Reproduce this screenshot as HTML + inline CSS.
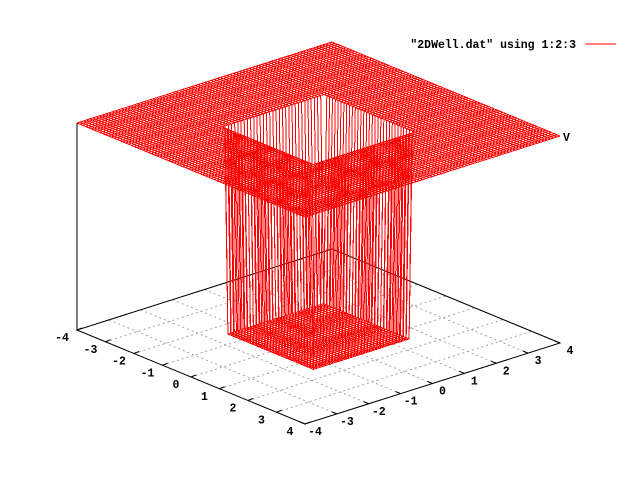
<!DOCTYPE html>
<html><head><meta charset="utf-8"><style>
html,body{margin:0;padding:0;background:#fff}
svg{display:block}
text{font-family:"Liberation Mono",monospace;font-size:11.5px;font-weight:bold;fill:#000}
</style></head><body>
<svg id="chart" width="640" height="480" viewBox="0 0 640 480">
<g id="grid"></g>
<g id="axes"></g>
<g id="mesh" fill="none" stroke="#ff0000" stroke-width="1" shape-rendering="crispEdges"></g>
<g id="labels"></g>
<text x="576" y="48" text-anchor="end">"2DWell.dat" using 1:2:3</text>
<line x1="585" y1="44" x2="616" y2="44" stroke="#ff0000"/>
<text x="563" y="141">V</text>
</svg>
<script>
const xTicks=[-4,-3,-2,-1,0,1,2,3,4];
const yTicks=[-4,-3,-2,-1,0,1,2,3,4];
const axisRange=[-4,4];
const gridStep=[0.1];
const wellBounds=[-1.5,1.5];
const wellValue=[-1];
const outsideValue=[0];
const zRange=[-1,0];

const L=[77,330],B=[305,424],R=[560,343],ZH=207;
const NS="http://www.w3.org/2000/svg";
function P(x,y,z){
  const u=(x-axisRange[0])/(axisRange[1]-axisRange[0]);
  const v=(y-axisRange[0])/(axisRange[1]-axisRange[0]);
  const sx=L[0]+u*(B[0]-L[0])+v*(R[0]-B[0]);
  const sy=L[1]+u*(B[1]-L[1])+v*(R[1]-B[1])-(z-zRange[0])/(zRange[1]-zRange[0])*ZH;
  return [sx,sy];
}
function V(x,y){
  return (x>=wellBounds[0]-1e-9&&x<=wellBounds[1]+1e-9&&y>=wellBounds[0]-1e-9&&y<=wellBounds[1]+1e-9)?wellValue[0]:outsideValue[0];
}
function mk(tag,attrs,parent){const e=document.createElementNS(NS,tag);for(const k in attrs)e.setAttribute(k,attrs[k]);parent.appendChild(e);return e;}
const grid=document.getElementById('grid'),axes=document.getElementById('axes'),mesh=document.getElementById('mesh'),labels=document.getElementById('labels');
const zb=zRange[0];
xTicks.forEach(t=>{const a=P(t,axisRange[0],zb),b=P(t,axisRange[1],zb);
  const e=mk('line',{x1:a[0],y1:a[1],x2:b[0],y2:b[1],stroke:'#a0a0a0','stroke-dasharray':'2,3'},grid);
  
  });
yTicks.forEach(t=>{const a=P(axisRange[0],t,zb),b=P(axisRange[1],t,zb);
  const e=mk('line',{x1:a[0],y1:a[1],x2:b[0],y2:b[1],stroke:'#a0a0a0','stroke-dasharray':'2,3'},grid);
  
  });
const c=[P(axisRange[0],axisRange[0],zb),P(axisRange[1],axisRange[0],zb),P(axisRange[1],axisRange[1],zb),P(axisRange[0],axisRange[1],zb)];
const bd=mk('polygon',{points:c.map(p=>p.join(',')).join(' '),fill:'none',stroke:'#000'},axes);


const zt=P(axisRange[0],axisRange[0],zRange[1]);
const za=mk('line',{x1:c[0][0],y1:c[0][1],x2:zt[0],y2:zt[1],stroke:'#000'},axes);


xTicks.forEach(t=>{const p=P(t,axisRange[0],zb);
  mk('line',{x1:p[0],y1:p[1],x2:p[0]+5,y2:p[1]-2,stroke:'#000'},axes);
  const e=mk('text',{x:p[0]-15,y:p[1]+11,'text-anchor':'middle'},labels);e.textContent=t;
  
  });
yTicks.forEach(t=>{const p=P(axisRange[1],t,zb);
  mk('line',{x1:p[0],y1:p[1],x2:p[0]-5,y2:p[1]-2,stroke:'#000'},axes);
  const e=mk('text',{x:p[0]+10,y:p[1]+11,'text-anchor':'middle'},labels);e.textContent=t;
  
  });
const n=Math.round((axisRange[1]-axisRange[0])/gridStep[0]);
const vals=[];for(let i=0;i<=n;i++)vals.push(axisRange[0]+i*gridStep[0]);
vals.forEach(x=>{const pts=vals.map(y=>P(x,y,V(x,y)).map(v=>v.toFixed(1)).join(','));
  const e=mk('polyline',{points:pts.join(' ')},mesh);
  
  });
vals.forEach(y=>{const pts=vals.map(x=>P(x,y,V(x,y)).map(v=>v.toFixed(1)).join(','));
  const e=mk('polyline',{points:pts.join(' ')},mesh);
  
  });
</script>
</body></html>
